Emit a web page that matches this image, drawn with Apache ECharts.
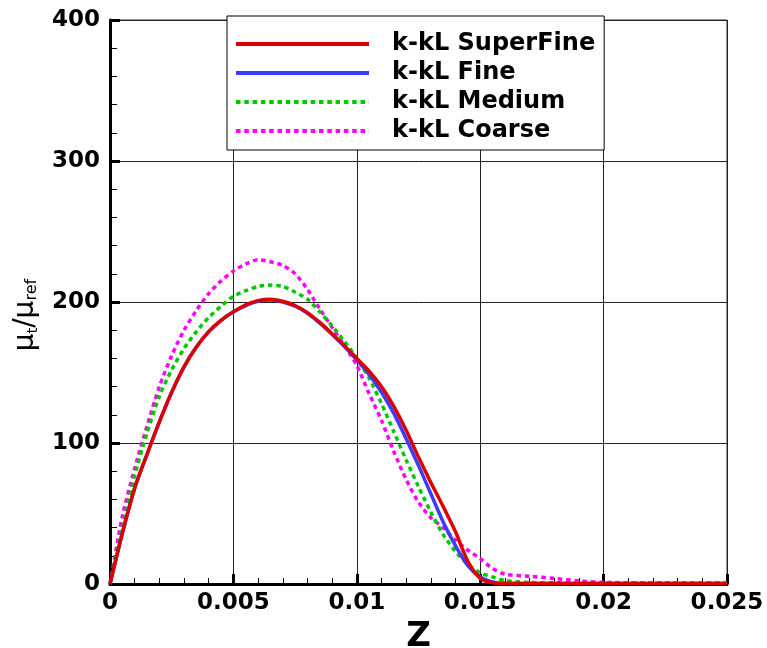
<!DOCTYPE html>
<html>
<head>
<meta charset="utf-8">
<script src="https://cdn.jsdelivr.net/npm/echarts@6/dist/echarts.min.js"></script>
<style>html,body{margin:0;padding:0;background:#fff;}#c{width:767px;height:648px;}</style>
</head>
<body>
<div id="c"></div>
<script>
// ---- data ----
const seriesNames = ['k-kL SuperFine', 'k-kL Fine', 'k-kL Medium', 'k-kL Coarse'];
const xTicks = [0, 0.005, 0.01, 0.015, 0.02, 0.025];
const yTicks = [0, 100, 200, 300, 400];

const zSuperFine = [0,0.0005,0.001,0.0015,0.002,0.0025,0.003,0.0035,0.004,0.0045,0.005,0.0055,0.006,0.0065,0.007,0.0075,0.008,0.0085,0.009,0.0095,0.01,0.0105,0.011,0.0115,0.012,0.0125,0.013,0.0135,0.014,0.0145,0.015,0.0155,0.016,0.018,0.02,0.025];
const ySuperFine = [0,36,68,92,115,136,154,168,179,187,193,198,201,202,200.5,197.5,192.5,185.5,177.5,169,160,151,140,126,109,90,72,55,37,16,4,0.8,0.3,0.3,0.3,0.3];

const zFine = [0,0.0005,0.001,0.0015,0.002,0.0025,0.003,0.0035,0.004,0.0045,0.005,0.0055,0.006,0.0065,0.007,0.0075,0.008,0.0085,0.009,0.0095,0.01,0.0105,0.011,0.0115,0.012,0.0125,0.013,0.0135,0.014,0.0145,0.015,0.0155,0.016,0.018,0.02,0.025];
const yFine = [0,36,68,92,115,136,154,168,179,187,193,197.5,200.5,201.5,200,197,192,185,177,168.5,159,148.5,136,121,103,84,64,44,27,13,5,1.5,0.5,0.3,0.3,0.3];

const zMedium = [0,0.0005,0.001,0.0015,0.002,0.0025,0.003,0.0035,0.004,0.0045,0.005,0.0055,0.006,0.0065,0.007,0.0075,0.008,0.0085,0.009,0.0095,0.01,0.0105,0.011,0.0115,0.012,0.0125,0.013,0.0135,0.014,0.0145,0.015,0.0155,0.016,0.017,0.02,0.025];
const yMedium = [0,40,77,107,133,152,167,179,189,197,204,208,211,212,211,207,202,193,183,172,160,146,128,108,88,69,51,35,23,14,8,5,2.5,1,0.8,0.8];

const zCoarse = [0,0.0005,0.001,0.0015,0.002,0.0025,0.003,0.0035,0.004,0.0045,0.005,0.0055,0.006,0.0065,0.007,0.0075,0.008,0.0085,0.009,0.0095,0.01,0.0105,0.011,0.0115,0.012,0.0125,0.013,0.0135,0.014,0.0145,0.015,0.0155,0.016,0.017,0.018,0.019,0.02,0.022,0.025];
const yCoarse = [0,48,82,112,140,162,180,194,206,215,222,227,230,228.5,226,220,209,195,182,169,155,135,116,94,74,58,47,40,31,24,18,11,7,5.5,4,2.2,1.2,0.7,0.5];

const colors = ['#dd0000', '#3c3cff', '#00c800', '#ff00ff'];
const dashes = ['solid', 'solid', [4.5, 3.8], [4.5, 3.8]];

const zs = [zSuperFine, zFine, zMedium, zCoarse];
const ys = [ySuperFine, yFine, yMedium, yCoarse];

const chart = echarts.init(document.getElementById('c'), null, {renderer: 'canvas'});
const fnt = 'DejaVu Sans';

const series = seriesNames.map((name, i) => ({
  name: name,
  type: 'line',
  data: zs[i].map((z, k) => [z, ys[i][k]]),
  symbol: 'none',
  smooth: 0.25,
  z: 10 - i,
  lineStyle: {color: colors[i], width: 3.5, type: dashes[i]},
  itemStyle: {color: colors[i]}
}));

chart.setOption({
  animation: false,
  backgroundColor: '#fff',
  grid: {left: 110, top: 20, width: 617, height: 564, show: true, borderColor: '#333', borderWidth: 1,
    containLabel: false, outerBoundsMode: 'none'},
  legend: {
    orient: 'vertical', left: 227, top: 16,
    data: seriesNames,
    backgroundColor: '#fff', borderColor: '#000', borderWidth: 1,
    padding: [16, 9, 7, 7],
    itemWidth: 133, itemHeight: 14, itemGap: 5,
    itemStyle: {opacity: 0},
    lineStyle: {width: 4},
    textStyle: {fontFamily: fnt, fontWeight: 'bold', fontSize: 24, color: '#000', lineHeight: 24, padding: [0, 0, 0, 18]}
  },
  xAxis: {
    type: 'value', min: xTicks[0], max: xTicks[xTicks.length - 1], interval: 0.005,
    name: 'Z', nameLocation: 'middle', nameGap: 25,
    nameTextStyle: {fontFamily: fnt, fontWeight: 'bold', fontSize: 34, color: '#000'},
    axisLine: {show: true, onZero: false, lineStyle: {color: '#000', width: 3}},
    axisTick: {show: true, inside: true, length: 10, lineStyle: {color: '#000', width: 3}},
    minorTick: {show: true, splitNumber: 5, length: 6, lineStyle: {color: '#000', width: 1}},
    splitLine: {show: true, lineStyle: {color: '#222', width: 1}},
    axisLabel: {fontFamily: fnt, fontWeight: 'bold', fontSize: 23, color: '#000', margin: 8,
      formatter: v => String(+v.toFixed(4))}
  },
  yAxis: {
    type: 'value', min: yTicks[0], max: yTicks[yTicks.length - 1], interval: 100,
    name: 'μ{t|t}/μ{r|ref}', nameLocation: 'middle', nameGap: 70, nameRotate: 90,
    nameTextStyle: {
      fontFamily: fnt, fontSize: 28, color: '#000', padding: [0, 26, 0, 0],
      rich: {
        t: {fontFamily: fnt, fontSize: 14, color: '#000', verticalAlign: 'bottom', padding: [12, 0, 0, 0]},
        r: {fontFamily: fnt, fontSize: 16, color: '#000', verticalAlign: 'bottom', padding: [12, 0, 0, 0]}
      }
    },
    axisLine: {show: true, onZero: false, lineStyle: {color: '#000', width: 3}},
    axisTick: {show: true, inside: true, length: 10, lineStyle: {color: '#000', width: 3}},
    minorTick: {show: true, splitNumber: 5, length: 7, lineStyle: {color: '#000', width: 1}},
    splitLine: {show: true, lineStyle: {color: '#222', width: 1}},
    axisLabel: {fontFamily: fnt, fontWeight: 'bold', fontSize: 23, color: '#000', margin: 10}
  },
  series: series
});
</script>
</body>
</html>
